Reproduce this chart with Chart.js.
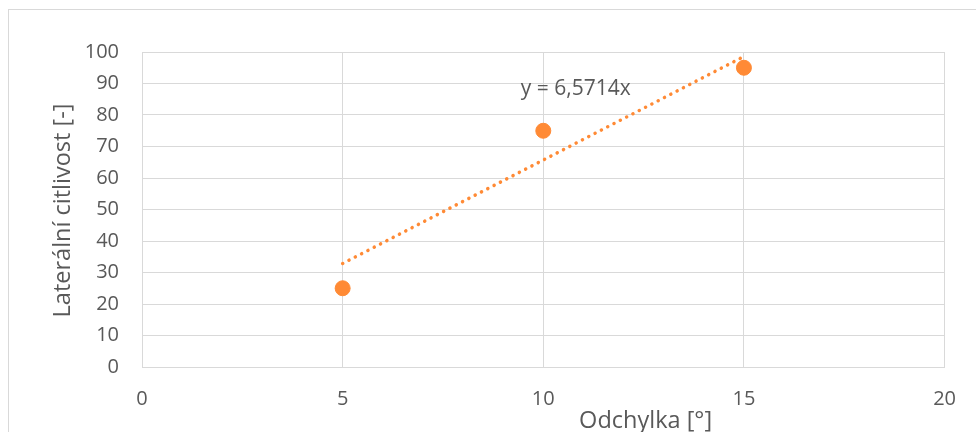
<!DOCTYPE html>
<html>
<head>
<meta charset="utf-8">
<script src="https://cdn.jsdelivr.net/npm/chart.js@4/dist/chart.umd.min.js"></script>
<style>
    html, body { margin: 0; padding: 0; background: #fff; overflow: hidden; }
    #wrap { position: relative; width: 976px; height: 432px; }
    #frame { position: absolute; left: 8px; top: 9px; width: 1100px; height: 600px; border: 1px solid #d9d9d9; }
    #chart { position: absolute; left: 0; top: 0; }
</style>
</head>
<body>
<div id="wrap">
    <div id="frame"></div>
    <canvas id="chart" width="976" height="432"></canvas>
</div>
<script>
// measured points
const odchylka = [5, 10, 15];
const citlivost = [25, 75, 95];

// linear trendline through origin, y = 6,5714x, drawn from x=5 to x=15
const trendX = [5, 15];
const trendY = [32.857, 98.571];
const trendLabel = 'y = 6,5714x';

const xTicks = [0, 5, 10, 15, 20];
const yTicks = [0, 10, 20, 30, 40, 50, 60, 70, 80, 90, 100];

const xTitle = 'Odchylka [°]';
const yTitle = 'Laterální citlivost [-]';

const textColor = '#595959';
const gridColor = '#d9d9d9';
const orange = '#ff8a35';
const fontFamily = '"Open Sans", "Liberation Sans", sans-serif';

// trend equation + axis titles (titles sit off-centre in the original)
const textPlugin = {
    id: 'extraText',
    afterDatasetsDraw(chart) {
        const ctx = chart.ctx;
        const xs = chart.scales.x, ys = chart.scales.y;
        ctx.save();
        ctx.fillStyle = textColor;

        ctx.font = '21px ' + fontFamily;
        ctx.textAlign = 'left';
        ctx.textBaseline = 'middle';
        ctx.fillText(trendLabel, xs.getPixelForValue(9.44), ys.getPixelForValue(88.3));

        ctx.font = '23.5px ' + fontFamily;
        ctx.textAlign = 'center';
        ctx.textBaseline = 'alphabetic';
        ctx.fillText(xTitle, xs.getPixelForValue(12.55), 428);

        ctx.translate(70, (ys.top + ys.bottom) / 2 + 1);
        ctx.rotate(-Math.PI / 2);
        ctx.fillText(yTitle, 0, 0);
        ctx.restore();
    }
};

const ctx = document.getElementById('chart').getContext('2d');
new Chart(ctx, {
    type: 'scatter',
    data: {
        datasets: [
            {
                label: 'Laterální citlivost',
                data: odchylka.map((v, i) => ({ x: v, y: citlivost[i] })),
                backgroundColor: orange,
                borderColor: orange,
                pointRadius: 7.5,
                pointHoverRadius: 7.5,
                order: 1
            },
            {
                label: 'Trend',
                type: 'line',
                data: trendX.map((v, i) => ({ x: v, y: trendY[i] })),
                borderColor: orange,
                borderWidth: 3.5,
                borderDash: [0.1, 7],
                borderCapStyle: 'round',
                pointRadius: 0,
                fill: false,
                order: 2
            }
        ]
    },
    options: {
        responsive: false,
        animation: false,
        devicePixelRatio: 1,
        layout: { padding: { top: 52, right: 29, left: 0, bottom: 0 } },
        plugins: {
            legend: { display: false },
            tooltip: { enabled: false }
        },
        scales: {
            x: {
                type: 'linear',
                min: 0,
                max: 20,
                afterBuildTicks: (scale) => { scale.ticks = xTicks.map(v => ({ value: v })); },
                afterFit: (scale) => { scale.height = 65; },
                grid: { color: gridColor, lineWidth: 1, drawTicks: false },
                border: { color: gridColor },
                ticks: { color: textColor, font: { family: fontFamily, size: 20 }, padding: 20 }
            },
            y: {
                min: 0,
                max: 100,
                afterBuildTicks: (scale) => { scale.ticks = yTicks.map(v => ({ value: v })); },
                afterFit: (scale) => { scale.width = 142; },
                grid: { color: gridColor, lineWidth: 1, drawTicks: false },
                border: { color: gridColor },
                ticks: { color: textColor, font: { family: fontFamily, size: 20 }, padding: 23 }
            }
        }
    },
    plugins: [textPlugin]
});
</script>
</body>
</html>
